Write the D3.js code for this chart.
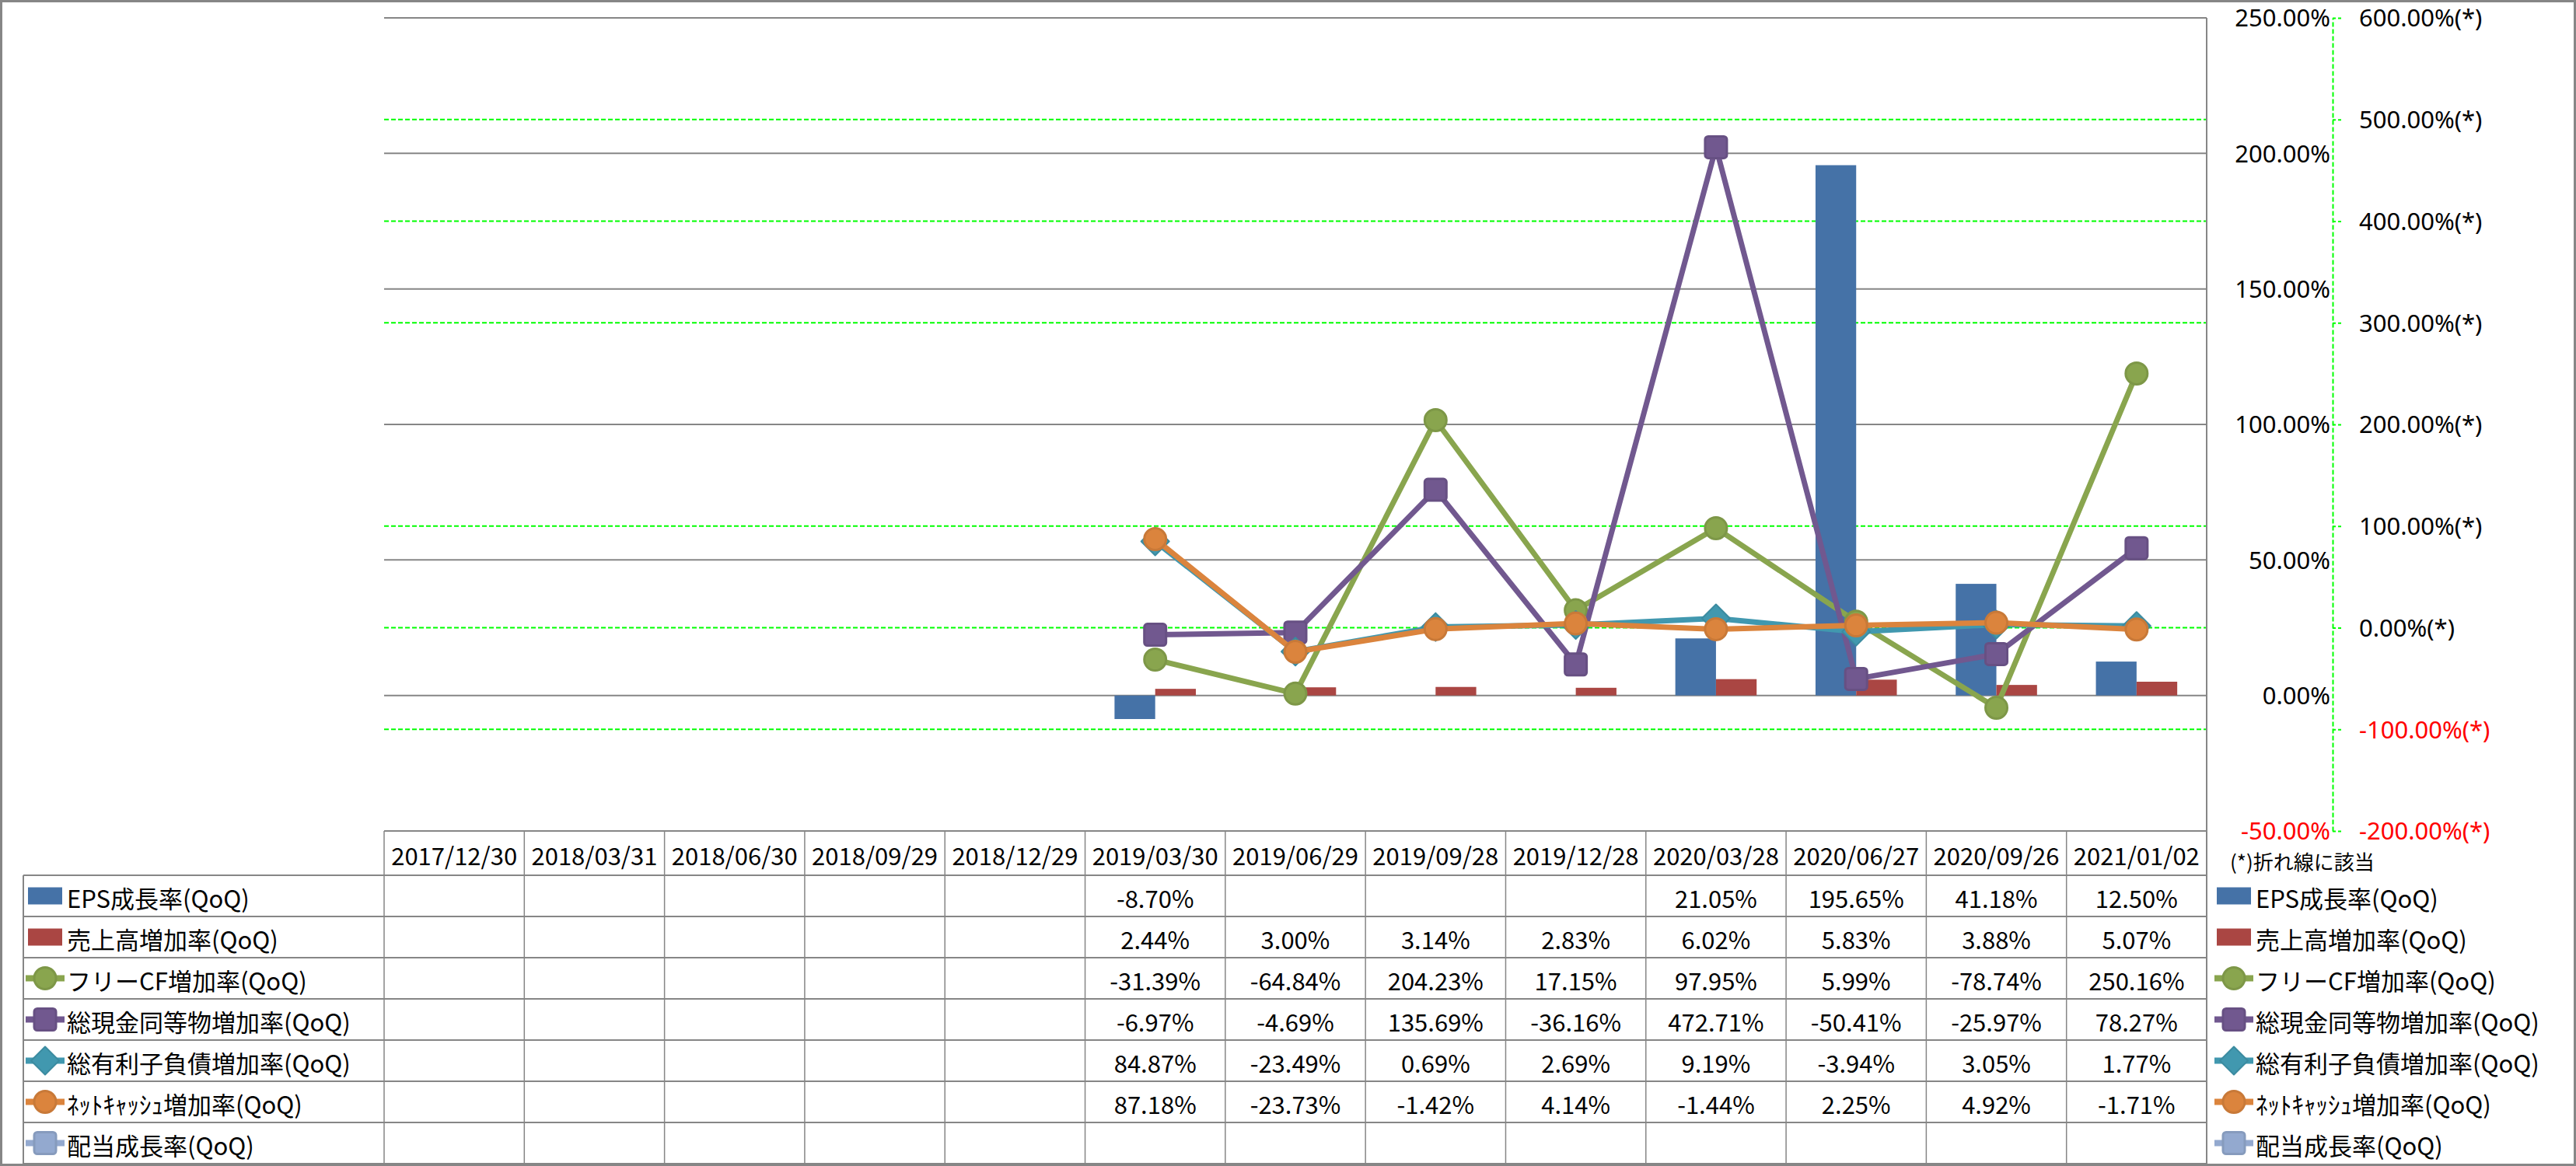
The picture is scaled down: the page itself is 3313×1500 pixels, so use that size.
<!DOCTYPE html>
<html>
<head>
<meta charset="utf-8">
<script src="https://cdn.jsdelivr.net/npm/d3@7"></script>
<style>
  body { margin: 0; background: #fff; }
  text { font-family: "Noto Sans CJK JP", "Noto Sans", sans-serif; }
</style>
</head>
<body>
<svg id="chart"></svg>
<script>
// growth rate chart with data table underneath

// categories (quarter end dates)
let categories = ["2017/12/30", "2018/03/31", "2018/06/30", "2018/09/29", "2018/12/29",
    "2019/03/30", "2019/06/29", "2019/09/28", "2019/12/28", "2020/03/28",
    "2020/06/27", "2020/09/26", "2021/01/02"];

// bar series (primary axis)
let epsGrowth = [null, null, null, null, null, -8.70, null, null, null, 21.05, 195.65, 41.18, 12.50];
let salesGrowth = [null, null, null, null, null, 2.44, 3.00, 3.14, 2.83, 6.02, 5.83, 3.88, 5.07];

// line series (secondary axis, marked with (*))
let freeCfGrowth = [null, null, null, null, null, -31.39, -64.84, 204.23, 17.15, 97.95, 5.99, -78.74, 250.16];
let cashGrowth = [null, null, null, null, null, -6.97, -4.69, 135.69, -36.16, 472.71, -50.41, -25.97, 78.27];
let debtGrowth = [null, null, null, null, null, 84.87, -23.49, 0.69, 2.69, 9.19, -3.94, 3.05, 1.77];
let netCashGrowth = [null, null, null, null, null, 87.18, -23.73, -1.42, 4.14, -1.44, 2.25, 4.92, -1.71];
let dividendGrowth = [null, null, null, null, null, null, null, null, null, null, null, null, null];

// axis ticks
let leftTicks = [-50, 0, 50, 100, 150, 200, 250];
let rightTicks = [-200, -100, 0, 100, 200, 300, 400, 500, 600];

let seriesList = [
    {name: "EPS成長率(QoQ)", values: epsGrowth, type: "bar", color: "#4572A7"},
    {name: "売上高増加率(QoQ)", values: salesGrowth, type: "bar", color: "#AA4643"},
    {name: "フリーCF増加率(QoQ)", values: freeCfGrowth, type: "line", marker: "circle", color: "#89A54E"},
    {name: "総現金同等物増加率(QoQ)", values: cashGrowth, type: "line", marker: "square", color: "#71588F"},
    {name: "総有利子負債増加率(QoQ)", values: debtGrowth, type: "line", marker: "diamond", color: "#4198AF"},
    {name: "ﾈｯﾄｷｬｯｼｭ増加率(QoQ)", values: netCashGrowth, type: "line", marker: "circle", color: "#DB843D"},
    {name: "配当成長率(QoQ)", values: dividendGrowth, type: "line", marker: "square", color: "#93A9CF"}
];

const W = 3313, H = 1500;
const plot = {left: 494, right: 2838, top: 23, bottom: 1069};
const table = {left: 30, headTop: 1069, rowTop: 1126, rowH: 53};
const gridGrey = "#868686";
const fontSize = 31;

// plain hyphen for negatives, as in the source
let fmt = d3.formatLocale({decimal: ".", thousands: ",", grouping: [3], currency: ["", ""], minus: "-"})
    .format(".2f");

let svg = d3.select("#chart").attr("width", W).attr("height", H);

svg.append("rect")
    .attr("x", 1.5).attr("y", 1.5)
    .attr("width", W - 3).attr("height", H - 3)
    .attr("fill", "#fff").attr("stroke", gridGrey).attr("stroke-width", 3);

let x = d3.scaleBand().domain(categories).range([plot.left, plot.right]);
let xSub = d3.scaleBand().domain(["eps", "sales"])
    .range([x.bandwidth() * 0.21, x.bandwidth() * 0.79]);
let yLeft = d3.scaleLinear().domain([-50, 250]).range([plot.bottom, plot.top]);
let yRight = d3.scaleLinear().domain([-200, 600]).range([plot.bottom, plot.top]);

// secondary gridlines (dashed green)
svg.append("g")
    .selectAll("line")
    .data(rightTicks.filter(function (d) { return d > -200 && d < 600; }))
    .enter()
    .append("line")
    .attr("x1", plot.left).attr("x2", plot.right)
    .attr("y1", function (d) { return yRight(d); })
    .attr("y2", function (d) { return yRight(d); })
    .attr("stroke", "#00ff00").attr("stroke-width", 2)
    .attr("stroke-dasharray", "6,3");

// primary gridlines (solid grey)
svg.append("g")
    .selectAll("line")
    .data(leftTicks)
    .enter()
    .append("line")
    .attr("x1", plot.left).attr("x2", plot.right)
    .attr("y1", function (d) { return yLeft(d); })
    .attr("y2", function (d) { return yLeft(d); })
    .attr("stroke", gridGrey).attr("stroke-width", 2);

// bars
let barKeys = ["eps", "sales"];
seriesList.filter(function (s) { return s.type === "bar"; }).forEach(function (s, si) {
    svg.append("g")
        .selectAll("rect")
        .data(s.values.map(function (v, i) { return {cat: categories[i], v: v}; })
            .filter(function (d) { return d.v !== null; }))
        .enter()
        .append("rect")
        .attr("x", function (d) { return x(d.cat) + xSub(barKeys[si]); })
        .attr("width", xSub.bandwidth())
        .attr("y", function (d) { return yLeft(Math.max(0, d.v)); })
        .attr("height", function (d) { return Math.abs(yLeft(d.v) - yLeft(0)); })
        .attr("fill", s.color);
});

function drawMarker(g, shape, color, cx, cy) {
    let edge = d3.color(color).darker(0.25);
    if (shape === "circle") {
        g.append("circle").attr("cx", cx).attr("cy", cy)
            .attr("r", 14).attr("fill", color)
            .attr("stroke", edge).attr("stroke-width", 3);
    } else if (shape === "square") {
        let s = 28;
        g.append("rect").attr("x", cx - s / 2).attr("y", cy - s / 2)
            .attr("width", s).attr("height", s).attr("rx", 4).attr("fill", color)
            .attr("stroke", edge).attr("stroke-width", 3);
    } else if (shape === "diamond") {
        let h = 18;
        g.append("path")
            .attr("d", "M" + cx + "," + (cy - h) + "L" + (cx + h) + "," + cy +
                "L" + cx + "," + (cy + h) + "L" + (cx - h) + "," + cy + "Z")
            .attr("fill", color)
            .attr("stroke", edge).attr("stroke-width", 2).attr("stroke-linejoin", "round");
    }
}

// lines with markers
let line = d3.line()
    .defined(function (d) { return d.v !== null; })
    .x(function (d) { return x(d.cat) + x.bandwidth() / 2; })
    .y(function (d) { return yRight(d.v); });

seriesList.filter(function (s) { return s.type === "line"; }).forEach(function (s) {
    let pts = s.values.map(function (v, i) { return {cat: categories[i], v: v}; });
    let g = svg.append("g");
    g.append("path")
        .datum(pts.filter(function (d) { return d.v !== null; }))
        .attr("d", line)
        .attr("fill", "none")
        .attr("stroke", s.color)
        .attr("stroke-width", 7)
        .attr("stroke-linejoin", "round");
    pts.filter(function (d) { return d.v !== null; }).forEach(function (d) {
        drawMarker(g, s.marker, s.color, x(d.cat) + x.bandwidth() / 2, yRight(d.v));
    });
});

// plot right border (runs through the table too)
svg.append("line")
    .attr("x1", plot.right).attr("x2", plot.right)
    .attr("y1", plot.top).attr("y2", H - 2)
    .attr("stroke", gridGrey).attr("stroke-width", 2);

// primary axis labels
let leftAxis = svg.append("g")
    .attr("transform", "translate(2997,1)")
    .call(d3.axisLeft(yLeft).tickValues(leftTicks).tickSize(0).tickPadding(0)
        .tickFormat(function (d) { return fmt(d) + "%"; }));
leftAxis.select(".domain").remove();
leftAxis.selectAll("text")
    .style("font-size", fontSize + "px")
    .style("font-family", "'Noto Sans', sans-serif")
    .attr("fill", function (d) { return d < 0 ? "#ff0000" : "#000"; });

// secondary axis (dashed green line with ticks)
let rightAxis = svg.append("g")
    .attr("transform", "translate(3000,0)")
    .call(d3.axisRight(yRight).tickValues(rightTicks).tickSizeInner(11).tickSizeOuter(0).tickPadding(23)
        .tickFormat(function (d) { return fmt(d) + "%(*)"; }));
rightAxis.select(".domain")
    .attr("stroke", "#00ff00").attr("stroke-width", 2).attr("stroke-dasharray", "6,3");
rightAxis.selectAll(".tick line")
    .attr("stroke", "#00ff00").attr("stroke-width", 2).attr("stroke-dasharray", "4,3");
rightAxis.selectAll("text")
    .attr("transform", "translate(0,1)")
    .style("font-size", fontSize + "px")
    .style("font-family", "'Noto Sans', sans-serif")
    .attr("fill", function (d) { return d < 0 ? "#ff0000" : "#000"; });

svg.append("text")
    .attr("x", 2868).attr("y", 1107)
    .attr("dominant-baseline", "central")
    .style("font-size", "26px")
    .text("(*)折れ線に該当");

// data table
let tableBottom = table.rowTop + table.rowH * seriesList.length;
let tg = svg.append("g");

// horizontal lines
tg.append("line")
    .attr("x1", plot.left).attr("x2", plot.right)
    .attr("y1", table.headTop).attr("y2", table.headTop)
    .attr("stroke", gridGrey).attr("stroke-width", 2);
tg.selectAll("line.row")
    .data(d3.range(seriesList.length + 1))
    .enter()
    .append("line")
    .attr("class", "row")
    .attr("x1", table.left).attr("x2", plot.right)
    .attr("y1", function (i) { return table.rowTop + i * table.rowH; })
    .attr("y2", function (i) { return table.rowTop + i * table.rowH; })
    .attr("stroke", gridGrey).attr("stroke-width", 2);

// vertical lines
tg.selectAll("line.col")
    .data(categories)
    .enter()
    .append("line")
    .attr("class", "col")
    .attr("x1", function (d) { return x(d); })
    .attr("x2", function (d) { return x(d); })
    .attr("y1", table.headTop).attr("y2", tableBottom)
    .attr("stroke", gridGrey).attr("stroke-width", 1.5);
tg.append("line")
    .attr("x1", table.left).attr("x2", table.left)
    .attr("y1", table.rowTop).attr("y2", tableBottom)
    .attr("stroke", gridGrey).attr("stroke-width", 2);

// header dates
tg.selectAll("text.head")
    .data(categories)
    .enter()
    .append("text")
    .attr("class", "head")
    .attr("x", function (d) { return x(d) + x.bandwidth() / 2; })
    .attr("y", (table.headTop + table.rowTop) / 2 + 2)
    .attr("text-anchor", "middle")
    .attr("dominant-baseline", "central")
    .style("font-size", fontSize + "px")
    .text(function (d) { return d; });

function drawLegendKey(g, s, cx, cy) {
    if (s.type === "bar") {
        g.append("rect").attr("x", cx - 22).attr("y", cy - 11)
            .attr("width", 44).attr("height", 22).attr("fill", s.color);
    } else {
        g.append("line").attr("x1", cx - 25).attr("x2", cx + 25)
            .attr("y1", cy).attr("y2", cy)
            .attr("stroke", s.color).attr("stroke-width", 8);
        drawMarker(g, s.marker, s.color, cx, cy);
    }
}

seriesList.forEach(function (s, r) {
    let cy = table.rowTop + table.rowH * r + table.rowH / 2;
    // left legend cell
    drawLegendKey(tg, s, 58, cy);
    tg.append("text")
        .attr("x", 86).attr("y", cy + 2)
        .attr("dominant-baseline", "central")
        .style("font-size", fontSize + "px")
        .text(s.name);
    // values
    tg.selectAll(null)
        .data(s.values.map(function (v, i) { return {cat: categories[i], v: v}; })
            .filter(function (d) { return d.v !== null; }))
        .enter()
        .append("text")
        .attr("x", function (d) { return x(d.cat) + x.bandwidth() / 2; })
        .attr("y", cy + 2)
        .attr("text-anchor", "middle")
        .attr("dominant-baseline", "central")
        .style("font-size", fontSize + "px")
        .text(function (d) { return fmt(d.v) + "%"; });
    // right legend
    drawLegendKey(tg, s, 2873, cy);
    tg.append("text")
        .attr("x", 2901).attr("y", cy + 2)
        .attr("dominant-baseline", "central")
        .style("font-size", fontSize + "px")
        .text(s.name);
});
</script>
</body>
</html>
